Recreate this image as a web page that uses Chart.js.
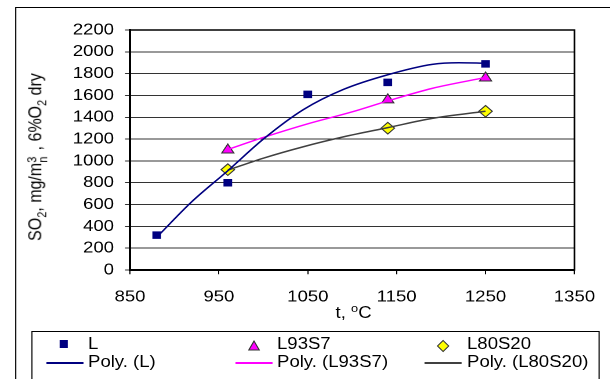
<!DOCTYPE html>
<html>
<head>
<meta charset="utf-8">
<script src="https://cdn.jsdelivr.net/npm/chart.js@4/dist/chart.umd.min.js"></script>
<style>
    html, body { margin: 0; padding: 0; background: #fff; overflow: hidden; }
    /* the reference is drawn slightly stretched sideways, so the whole page is too */
    #wrap { position: absolute; left: 0; top: 0; width: 526px; height: 379px;
            transform: scaleX(1.16); transform-origin: 0 0;
            font-family: "Liberation Sans", Arial, sans-serif; color: #000; }
    #frame { position: absolute; left: 12.9px; top: 7px; width: 600px; height: 400px; border: 1px solid #000; }
    canvas { position: absolute; left: 0; top: 0; }
    #ytitle { position: absolute; left: 32px; top: 157px; font-size: 16px; white-space: nowrap;
              transform: translate(-50%, -50%) rotate(-90deg); }
    #xtitle { position: absolute; left: 304.8px; top: 312px; font-size: 16px; white-space: nowrap;
              transform: translate(-50%, -50%); }
    #ytitle sub, #ytitle sup, #xtitle sup { font-size: 11px; }
    .mn { display: inline-block; position: relative; width: 8px; height: 10px; }
    .mn span { position: absolute; left: 0; font-size: 11px; line-height: 11px; }
    #legend { position: absolute; left: 26.7px; top: 331px; width: 488px; height: 60px; border: 1px solid #000; }
    .txt { position: absolute; font-size: 16px; line-height: 18px; white-space: nowrap; }
    .ln { position: absolute; height: 2px; }
    svg { position: absolute; overflow: visible; }
</style>
</head>
<body>
<div id="wrap">
    <div id="frame"></div>
    <canvas id="chart" width="526" height="379" style="width:526px;height:379px"></canvas>
    <div id="ytitle">SO<sub>2</sub>, mg/m<span class="mn"><span style="top:-4px">3</span><span style="top:6px">n</span></span> , 6%O<sub>2</sub> dry</div>
    <div id="xtitle">t, <sup>o</sup>C</div>
    <div id="legend"></div>
    <svg width="1" height="1" style="left:55.2px;top:344px"><rect x="-3.5" y="-4" width="7" height="8" fill="#000080"/></svg>
    <div class="txt" style="left:75.9px;top:335px">L</div>
    <div class="ln" style="left:39.7px;top:362px;width:32px;background:#000080"></div>
    <div class="txt" style="left:75.9px;top:353px">Poly. (L)</div>
    <svg width="1" height="1" style="left:219px;top:346px"><polygon points="0,-5 -4.5,4 4.5,4" fill="#ff00ff" stroke="#333" stroke-width="1"/></svg>
    <div class="txt" style="left:238.8px;top:335px">L93S7</div>
    <div class="ln" style="left:202.6px;top:362px;width:32.7px;background:#ff00ff"></div>
    <div class="txt" style="left:238.8px;top:353px">Poly. (L93S7)</div>
    <svg width="1" height="1" style="left:381.9px;top:346px"><polygon points="0,-5.5 4.8,0 0,5.5 -4.8,0" fill="#ffff00" stroke="#333" stroke-width="1"/></svg>
    <div class="txt" style="left:402.6px;top:335px">L80S20</div>
    <div class="ln" style="left:366.4px;top:362px;width:32px;background:#404040"></div>
    <div class="txt" style="left:402.6px;top:353px">Poly. (L80S20)</div>
</div>
<script>
    // Measured points
    const lT = [880, 960, 1050, 1140, 1250];
    const lSO2 = [320, 800, 1610, 1720, 1890];
    const s7T = [960, 1140, 1250];
    const s7SO2 = [1100, 1560, 1760];
    const s20T = [960, 1140, 1250];
    const s20SO2 = [920, 1300, 1455];

    // Trendlines
    const lTrendT = [880, 920, 960, 1000, 1045, 1090, 1140, 1190, 1220, 1250];
    const lTrendSO2 = [300, 630, 910, 1200, 1470, 1655, 1790, 1885, 1900, 1895];
    const s7TrendT = [960, 1000, 1050, 1100, 1140, 1190, 1250];
    const s7TrendSO2 = [1105, 1215, 1340, 1450, 1550, 1665, 1765];
    const s20TrendT = [960, 1000, 1045, 1090, 1140, 1190, 1250];
    const s20TrendSO2 = [915, 1025, 1130, 1220, 1305, 1390, 1455];

    const xTicks = [850, 950, 1050, 1150, 1250, 1350];
    const yTicks = [0, 200, 400, 600, 800, 1000, 1200, 1400, 1600, 1800, 2000, 2200];

    const pts = (xs, ys) => xs.map((x, i) => ({ x: x, y: ys[i] }));

    const frame = {
        id: 'frame',
        afterDraw(chart) {
            const a = chart.chartArea;
            const ctx = chart.ctx;
            ctx.save();
            ctx.strokeStyle = '#000';
            ctx.lineWidth = 1.5;
            ctx.strokeRect(a.left, a.top, a.right - a.left, a.bottom - a.top);
            ctx.restore();
        }
    };

    const font = { family: '"Liberation Sans", Arial, sans-serif', size: 16 };

    new Chart(document.getElementById('chart'), {
        type: 'scatter',
        data: {
            datasets: [
                {
                    label: 'Poly. (L)', data: pts(lTrendT, lTrendSO2), showLine: true,
                    borderColor: '#000080', borderWidth: 1.5, pointRadius: 0, cubicInterpolationMode: 'monotone'
                },
                {
                    label: 'Poly. (L93S7)', data: pts(s7TrendT, s7TrendSO2), showLine: true,
                    borderColor: '#ff00ff', borderWidth: 1.5, pointRadius: 0, cubicInterpolationMode: 'monotone'
                },
                {
                    label: 'Poly. (L80S20)', data: pts(s20TrendT, s20TrendSO2), showLine: true,
                    borderColor: '#404040', borderWidth: 1.5, pointRadius: 0, cubicInterpolationMode: 'monotone'
                },
                {
                    label: 'L', data: pts(lT, lSO2), pointStyle: 'rect', pointRadius: 5.3,
                    backgroundColor: '#000080', borderColor: '#000080', borderWidth: 0
                },
                {
                    label: 'L93S7', data: pts(s7T, s7SO2), pointStyle: 'triangle', pointRadius: 6,
                    backgroundColor: '#ff00ff', borderColor: '#333', borderWidth: 1
                },
                {
                    label: 'L80S20', data: pts(s20T, s20SO2), pointStyle: 'rectRot', pointRadius: 5.8,
                    backgroundColor: '#ffff00', borderColor: '#333', borderWidth: 1
                }
            ]
        },
        options: {
            responsive: false,
            animation: false,
            devicePixelRatio: 2,
            layout: { padding: { left: 0, right: 28.5, top: 30, bottom: 49 } },
            plugins: { legend: { display: false }, tooltip: { enabled: false } },
            scales: {
                x: {
                    type: 'linear', min: 850, max: 1350,
                    afterBuildTicks: (s) => { s.ticks = xTicks.map(v => ({ value: v })); },
                    afterFit: (s) => { s.height = 60; },
                    ticks: { color: '#000', font: font, padding: 13, maxRotation: 0, autoSkip: false,
                             callback: (v) => String(v) },
                    grid: { drawOnChartArea: false, drawTicks: true, tickLength: 4.3, color: '#000' },
                    border: { color: '#000', width: 2 }
                },
                y: {
                    min: 0, max: 2200,
                    afterBuildTicks: (s) => { s.ticks = yTicks.map(v => ({ value: v })); },
                    afterFit: (s) => { s.width = 112.1; },
                    ticks: { color: '#000', font: font, padding: 9.5, autoSkip: false,
                             callback: (v) => String(v) },
                    grid: { color: '#333', lineWidth: 1, tickLength: 4.3 },
                    border: { color: '#000', width: 2 }
                }
            }
        },
        plugins: [frame]
    });
</script>
</body>
</html>
